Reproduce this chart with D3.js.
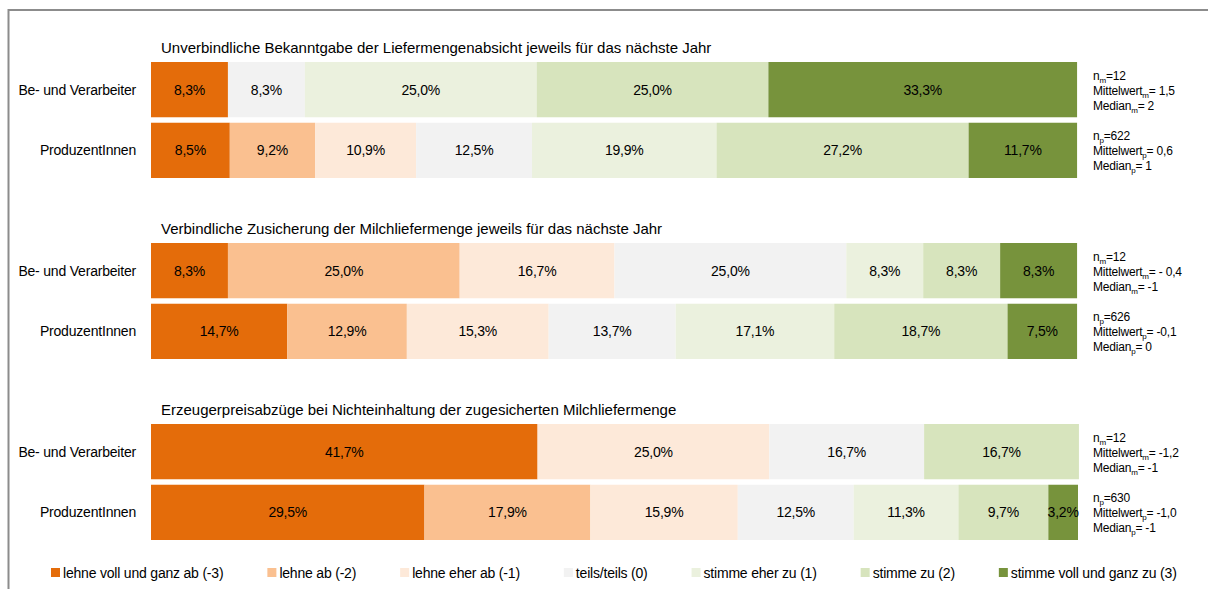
<!DOCTYPE html>
<html>
<head>
<meta charset="utf-8">
<script src="https://cdn.jsdelivr.net/npm/d3@7"></script>
<style>
  body { margin: 0; background: #fff; }
  svg text { font-family: "Liberation Sans", Arial, sans-serif; fill: #000; }
</style>
</head>
<body>
<svg id="chart" width="1208" height="589"></svg>
<script>
// titles of the three questions
const titles = [
  "Unverbindliche Bekanntgabe der Liefermengenabsicht jeweils für das nächste Jahr",
  "Verbindliche Zusicherung der Milchliefermenge jeweils für das nächste Jahr",
  "Erzeugerpreisabzüge bei Nichteinhaltung der zugesicherten Milchliefermenge"
];
const rows = ["Be- und Verarbeiter", "ProduzentInnen"];
const categories = [
  "lehne voll und ganz ab (-3)", "lehne ab (-2)", "lehne eher ab (-1)", "teils/teils (0)",
  "stimme eher zu (1)", "stimme zu (2)", "stimme voll und ganz zu (3)"
];
const colors = ["#E46C0A", "#FAC090", "#FDE9D9", "#F2F2F2", "#EBF1DE", "#D7E4BD", "#77933C"];

// shares in % per question, order of categories
const valuesM = [
  [8.3, 0, 0, 8.3, 25.0, 25.0, 33.3],
  [8.3, 25.0, 16.7, 25.0, 8.3, 8.3, 8.3],
  [41.7, 0, 25.0, 16.7, 0, 16.7, 0]
];
const valuesP = [
  [8.5, 9.2, 10.9, 12.5, 19.9, 27.2, 11.7],
  [14.7, 12.9, 15.3, 13.7, 17.1, 18.7, 7.5],
  [29.5, 17.9, 15.9, 12.5, 11.3, 9.7, 3.2]
];

// stats per question: [m, p]
const statN = [["12", "622"], ["12", "626"], ["12", "630"]];
const statMean = [["1,5", "0,6"], ["- 0,4", "-0,1"], ["-1,2", "-1,0"]];
const statMedian = [["2", "1"], ["-1", "0"], ["-1", "-1"]];
const subs = ["m", "p"];

const svg = d3.select("#chart");
const de = d3.formatLocale({ decimal: ",", thousands: ".", grouping: [3], currency: ["", "€"] });
const fmt = de.format(".1f");

const x = d3.scaleLinear().domain([0, 100]).range([151, 1078]);
const gy = d3.scaleLinear().domain([0, 2]).range([62, 424]);
const ry = d3.scaleBand().domain(rows).range([0, 116]).paddingInner(0.09);

/* frame */
svg.append("path")
  .attr("d", "M8.5,589V10H1208")
  .attr("fill", "none")
  .attr("stroke", "#8C8C8C")
  .attr("stroke-width", 2);

titles.forEach((t, g) => {
  const grp = svg.append("g").attr("transform", `translate(0,${gy(g)})`);

  grp.append("text") /* title */
    .attr("x", 161)
    .attr("y", -9)
    .attr("font-size", 15)
    .text(t);

  [valuesM[g], valuesP[g]].forEach((vals, r) => {
    const y0 = ry(rows[r]);
    const cum = d3.cumsum(vals);
    const segs = vals.map((v, i) => ({ v, i, x0: cum[i] - v, x1: cum[i] })).filter(d => d.v > 0);

    grp.append("text") /* row label */
      .attr("x", 136)
      .attr("y", y0 + ry.bandwidth() / 2)
      .attr("dy", "0.35em")
      .attr("text-anchor", "end")
      .attr("font-size", 14)
      .attr("letter-spacing", -0.2)
      .text(rows[r]);

    grp.selectAll(null)
      .data(segs)
      .enter()
      .append("rect")
      .attr("x", d => x(d.x0))
      .attr("width", d => x(d.x1) - x(d.x0))
      .attr("y", y0)
      .attr("height", ry.bandwidth())
      .attr("fill", d => colors[d.i]);

    grp.selectAll(null)
      .data(segs)
      .enter()
      .append("text")
      .attr("x", d => (x(d.x0) + x(d.x1)) / 2)
      .attr("y", y0 + ry.bandwidth() / 2)
      .attr("dy", "0.35em")
      .attr("text-anchor", "middle")
      .attr("font-size", 14)
      .attr("letter-spacing", -0.2)
      .text(d => fmt(d.v) + "%");

    /* n / Mittelwert / Median */
    const lines = [
      ["n", "=" + statN[g][r]],
      ["Mittelwert", "= " + statMean[g][r]],
      ["Median", "= " + statMedian[g][r]]
    ];
    const cy = y0 + ry.bandwidth() / 2;
    lines.forEach((ln, k) => {
      const tx = grp.append("text")
        .attr("x", 1093)
        .attr("y", cy - 10 + k * 15)
        .attr("font-size", 12)
        .attr("letter-spacing", -0.2);
      tx.append("tspan").text(ln[0]);
      tx.append("tspan").attr("font-size", 8).attr("dy", 3).text(subs[r]);
      tx.append("tspan").attr("dy", -3).text(ln[1]);
    });
  });
});

/* legend */
const leg = svg.append("g");
let lx = 51;
categories.forEach((c, i) => {
  leg.append("rect")
    .attr("x", lx)
    .attr("y", 568)
    .attr("width", 9)
    .attr("height", 9)
    .attr("fill", colors[i]);
  const t = leg.append("text")
    .attr("x", lx + 12)
    .attr("y", 578)
    .attr("font-size", 14)
    .attr("letter-spacing", -0.2)
    .text(c);
  lx += 12 + t.node().getComputedTextLength() + 44;
});
</script>
</body>
</html>
